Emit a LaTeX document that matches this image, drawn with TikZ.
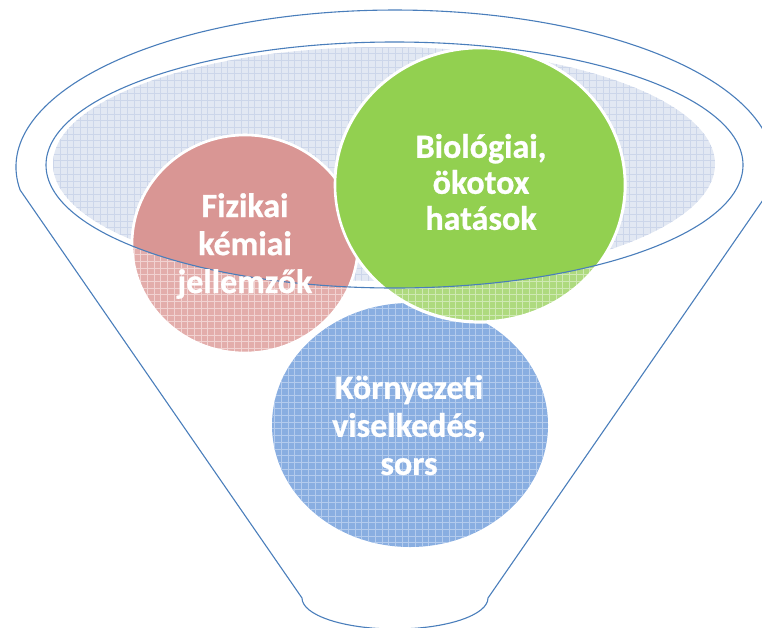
\documentclass[tikz,border=0pt]{standalone}
\usepackage{fontspec}
\newfontfamily\labelfont{Carlito}[BoldFeatures={FakeBold=0.8}]

\definecolor{rimblue}{HTML}{4A7EBB}
\definecolor{redsolid}{HTML}{D99694}
\definecolor{greensolid}{HTML}{92D050}
\definecolor{redglass}{HTML}{E3ADAB}
\definecolor{redgrid}{HTML}{F1D2D1}
\definecolor{greenglass}{HTML}{AEDA7E}
\definecolor{greengrid}{HTML}{CFE9B3}
\definecolor{blueglass}{HTML}{89AEE1}
\definecolor{bluegrid}{HTML}{B3CBED}
\definecolor{liquid}{HTML}{E2E8F3}
\definecolor{liquidgrid}{HTML}{CCD6EA}

\tikzset{
  rim/.style={draw=rimblue, line width=1.1pt, line join=round},
  % square grid texture clipped to the filled shape
  gridded/.style={path picture={
    \foreach \k in {0,6.7,...,780} {
      \draw[#1, line width=0.8pt] (\k,0) -- (\k,627);
      \draw[#1, line width=0.8pt] (0,\k) -- (762,\k);
    }}},
  bubble/.style={draw=white, line width=2.6pt},
  label/.style={text=white, align=center,
    font=\labelfont\bfseries\fontsize{34}{38}\selectfont}
}

\begin{document}
\begin{tikzpicture}[x=1pt,y=-1pt]
\useasboundingbox (0,0) rectangle (762,627);
\clip (0,0) rectangle (762,627);

% contents of the funnel, seen through the glass
\path[fill=liquid, gridded=liquidgrid] (384,164) ellipse [x radius=331, y radius=117];
\path[fill=blueglass, gridded=bluegrid] (410,425) ellipse [x radius=138, y radius=122];
\path[fill=redglass, gridded=redgrid, bubble] (245,244) ellipse [x radius=113, y radius=109];
\path[fill=greenglass, gridded=greengrid, bubble, line width=3.2pt] (480,185) ellipse [x radius=145, y radius=137];

% parts of the circles above the rim
\begin{scope}
  \clip (394.5,165) ellipse [x radius=348.5, y radius=123];
  \path[fill=redsolid, bubble] (245,244) ellipse [x radius=113, y radius=109];
  \path[fill=greensolid, bubble] (480,185) ellipse [x radius=145, y radius=137];
\end{scope}

% inner rim
\path[rim] (394.5,165) ellipse [x radius=348.5, y radius=123];

% funnel outline: outer rim, sloping sides, rounded spout
\path[rim] (302,598) -- (20.1,190)
  arc [start angle=171.58, end angle=368.42, x radius=379, y radius=157]
  -- (488,598)
  arc [start angle=0, end angle=180, x radius=93, y radius=31]
  -- cycle;

% labels
\node[label] (phys) at (245,246) {Fizikai\\kémiai\\jellemzők};
\node[label, font=\labelfont\bfseries\fontsize{34}{36}\selectfont] (bio) at (481,182) {Biológiai,\\ökotox\\hatások};
\node[label] (env) at (409,425) {Környezeti\\viselkedés,\\sors};
\end{tikzpicture}
\end{document}
